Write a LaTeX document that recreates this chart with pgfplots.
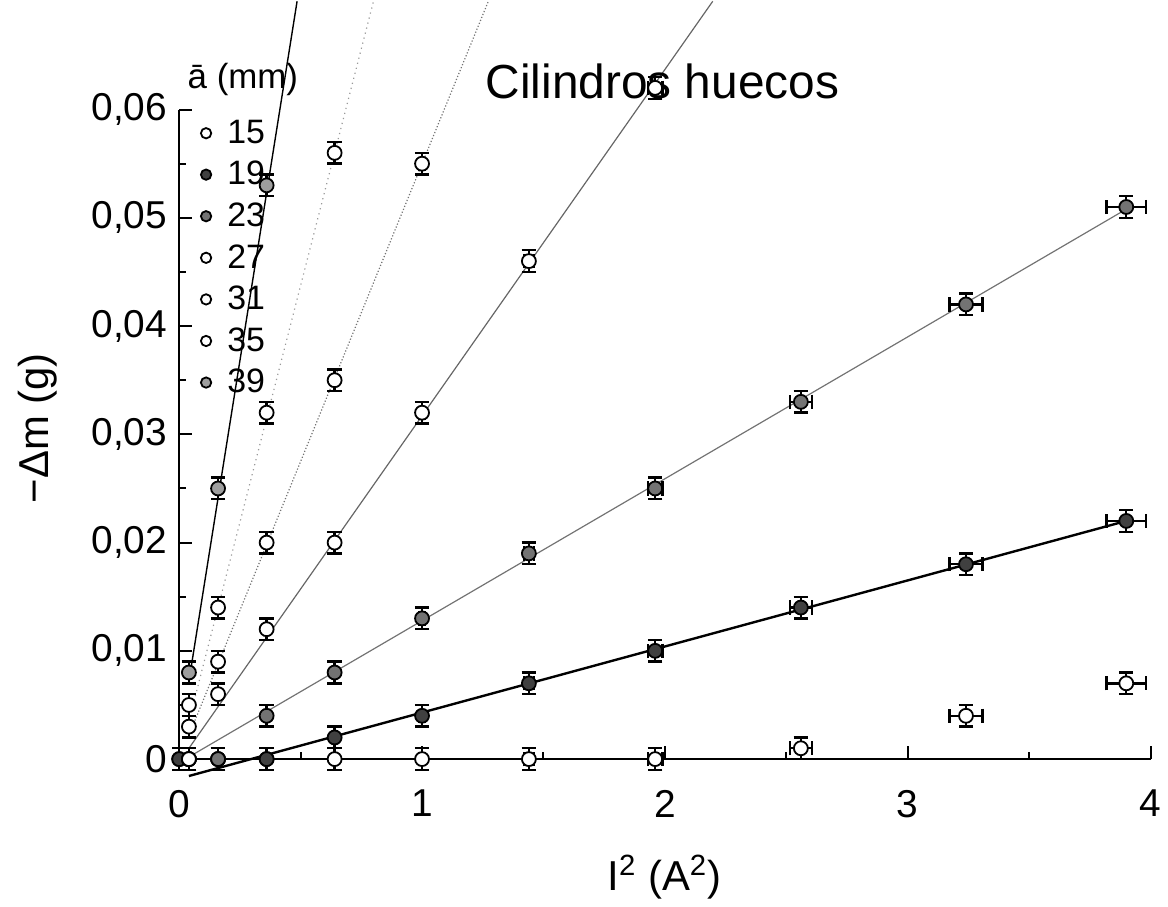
\documentclass[border=0pt]{standalone}
\usepackage{fontspec}
\setmainfont{Liberation Sans}
\usepackage{pgfplots}
\usepackage{pgfplotstable}
\pgfplotsset{compat=1.18}

% x = I^2 (A^2), y = -Delta m (g), ex/ey = error bars
\pgfplotstableread{
x y ex ey
0 0 0 0.001
0.04 0 0 0.001
0.16 0 0 0.001
0.36 0 0 0.001
0.64 0 0 0.001
1 0 0.012 0.001
1.44 0 0.02 0.001
1.96 0 0.03 0.001
2.56 0.001 0.045 0.001
3.24 0.004 0.068 0.001
3.9 0.007 0.082 0.001
}\aquince
\pgfplotstableread{
x y ex ey
0 0 0 0.001
0.04 0 0 0.001
0.16 0 0 0.001
0.36 0 0 0.001
0.64 0.002 0 0.001
1 0.004 0.012 0.001
1.44 0.007 0.02 0.001
1.96 0.010 0.03 0.001
2.56 0.014 0.045 0.001
3.24 0.018 0.068 0.001
3.9 0.022 0.082 0.001
}\adiecinueve
\pgfplotstableread{
x y ex ey
0.04 0 0 0.001
0.16 0 0 0.001
0.36 0.004 0 0.001
0.64 0.008 0 0.001
1 0.013 0.012 0.001
1.44 0.019 0.02 0.001
1.96 0.025 0.03 0.001
2.56 0.033 0.045 0.001
3.24 0.042 0.068 0.001
3.9 0.051 0.082 0.001
}\aveintitres
\pgfplotstableread{
x y ex ey
0.04 0 0 0.001
0.16 0.006 0 0.001
0.36 0.012 0 0.001
0.64 0.020 0 0.001
1 0.032 0.012 0.001
1.44 0.046 0.02 0.001
1.96 0.062 0.03 0.001
}\aveintisiete
\pgfplotstableread{
x y ex ey
0.04 0.003 0 0.001
0.16 0.009 0 0.001
0.36 0.020 0 0.001
0.64 0.035 0 0.001
1 0.055 0.012 0.001
}\atreintayuno
\pgfplotstableread{
x y ex ey
0.04 0.005 0 0.001
0.16 0.014 0 0.001
0.36 0.032 0 0.001
0.64 0.056 0 0.001
}\atreintaycinco
\pgfplotstableread{
x y ex ey
0.04 0.008 0 0.001
0.16 0.025 0 0.001
0.36 0.053 0 0.001
}\atreintaynueve

\pgfplotsset{
  pt/.style={only marks, mark=*, mark size=3.5pt,
    mark options={draw=black, line width=0.9pt, fill=#1}},
  s15/.style={pt=white}, s19/.style={pt=black!75},
  s23/.style={pt=black!55}, s27/.style={pt=white},
  s31/.style={pt=white}, s35/.style={pt=white},
  s39/.style={pt=black!38},
  eb/.style={error bars/.cd, x dir=both, x explicit, y dir=both, y explicit,
    error bar style={line width=1.2pt, black},
    error mark options={rotate=90, line width=1.2pt, black, mark size=3.6pt}},
}

\begin{document}
\begin{tikzpicture}
\begin{axis}[
  scale only axis, width=487.5pt, height=326pt,
  xmin=0, xmax=4, ymin=0, ymax=0.06,
  axis x line=bottom, axis y line=left,
  axis line style={-, line width=1pt},
  tick align=inside, tick style={black, line width=1pt},
  major tick length=6.5pt, minor tick length=3.5pt,
  xtick={0,1,2,3,4}, ytick={0,0.01,0.02,0.03,0.04,0.05,0.06},
  minor x tick num=1, minor y tick num=1,
  scaled y ticks=false,
  /pgf/number format/assume math mode=true,
  ticklabel style={font=\fontsize{19.5}{20}\selectfont},
  xticklabel style={yshift=-12pt},
  yticklabel style={xshift=-2.5pt, /pgf/number format/.cd, fixed, precision=2, use comma},
  clip=false,
  legend style={draw=none, fill=none, at={(axis cs:0.05,0.0598)}, anchor=north west,
    font=\fontsize{17}{17}\selectfont, row sep=3.5pt},
  legend cell align=left,
  legend image code/.code={\draw[#1, mark size=2.6pt] plot coordinates {(0pt,0pt)}; \path (-4pt,0pt) (8.5pt,0pt);},
]
\path (axis cs:-0.738,-0.01362) rectangle (axis cs:4.053,0.07012);

\addlegendimage{s15}\addlegendentry{15}
\addlegendimage{s19}\addlegendentry{19}
\addlegendimage{s23}\addlegendentry{23}
\addlegendimage{s27}\addlegendentry{27}
\addlegendimage{s31}\addlegendentry{31}
\addlegendimage{s35}\addlegendentry{35}
\addlegendimage{s39}\addlegendentry{39}

% fitted lines
\addplot[forget plot, black, line width=1.2pt] coordinates {(0.04,-0.00156) (3.9,0.0220)};
\addplot[forget plot, black!55, line width=0.6pt] coordinates {(0.04,0.0002) (3.9,0.0508)};
\addplot[forget plot, black!60, line width=0.6pt] coordinates {(0.04,0.001) (2.197,0.0700)};
\addplot[forget plot, black!55, densely dotted, line width=0.6pt] coordinates {(0.04,0.0022) (1.273,0.0700)};
\addplot[forget plot, black!40, dotted, line width=0.6pt] coordinates {(0.04,0.0035) (0.80,0.0700)};
\addplot[forget plot, black, line width=0.7pt] coordinates {(0.04,0.0072) (0.4854,0.0700)};

\addplot[forget plot, s15, eb] table[x=x, y=y, x error=ex, y error=ey] {\aquince};
\addplot[forget plot, s19, eb] table[x=x, y=y, x error=ex, y error=ey] {\adiecinueve};
\addplot[forget plot, s23, eb] table[x=x, y=y, x error=ex, y error=ey] {\aveintitres};
\addplot[forget plot, s27, eb] table[x=x, y=y, x error=ex, y error=ey] {\aveintisiete};
\addplot[forget plot, s31, eb] table[x=x, y=y, x error=ex, y error=ey] {\atreintayuno};
\addplot[forget plot, s35, eb] table[x=x, y=y, x error=ex, y error=ey] {\atreintaycinco};
\addplot[forget plot, s39, eb] table[x=x, y=y, x error=ex, y error=ey] {\atreintaynueve};

\node[anchor=west, font=\fontsize{17.5}{18}\selectfont] at (axis cs:0.006,0.06276) {ā (mm)};
\node[font=\fontsize{24}{24}\selectfont] at (axis cs:1.99,0.0626) {Cilindros huecos};
\node[font=\fontsize{21}{21}\selectfont] at (axis cs:1.998,-0.01086) {I\textsuperscript{2} (A\textsuperscript{2})};
\node[rotate=90, font=\fontsize{21}{21}\selectfont] at (axis cs:-0.5826,0.03055) {−Δm (g)};
\end{axis}
\end{tikzpicture}
\end{document}
